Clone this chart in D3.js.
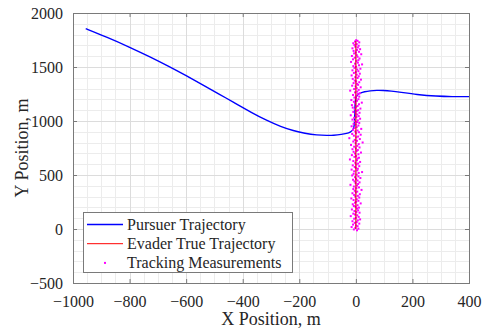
<!DOCTYPE html>
<html>
<head>
<meta charset="utf-8">
<script src="https://cdn.jsdelivr.net/npm/d3@7"></script>
<style>
  body { margin: 0; background: #fff; }
  svg { display: block; font-family: "Liberation Serif", "DejaVu Serif", serif; }
</style>
</head>
<body>
<div id="chart"></div>
<script>
// axis ticks
var xTicks = [-1000, -800, -600, -400, -200, 0, 200, 400];
var yTicks = [-500, 0, 500, 1000, 1500, 2000];

// pursuer trajectory
var pursuerX = [-955, -880, -800, -730, -660, -600, -540, -480, -433, -370, -315, -265, -221, -180, -138, -100, -80, -50, -32, -20, -9, -5, -4, -3, -1, 5, 15, 30, 50, 75, 97, 125, 156, 215, 286, 340, 400];
var pursuerY = [1855, 1776, 1684, 1597, 1504, 1420, 1333, 1244, 1174, 1080, 1005, 947, 910, 885, 870, 866, 867, 876, 886, 896, 918, 960, 1050, 1150, 1215, 1243, 1258, 1272, 1280, 1284, 1283, 1277, 1267, 1245, 1229, 1225, 1226];

// evader true trajectory
var evaderX = [0, 0];
var evaderY = [0, 1740];

// tracking measurements
var measY = [
  -12, -4, 3, 11, 18, 26, 33, 41, 50, 57,
  64, 72, 80, 89, 95, 103, 112, 119, 127, 134,
  142, 151, 158, 166, 173, 181, 190, 198, 205, 213,
  220, 229, 237, 244, 252, 261, 268, 276, 283, 291,
  300, 307, 315, 322, 331, 339, 346, 354, 362, 370,
  378, 385, 393, 402, 409, 417, 425, 432, 441, 449,
  456, 464, 472, 480, 487, 496, 503, 511, 519, 527,
  534, 543, 550, 558, 566, 574, 582, 589, 597, 606,
  613, 621, 629, 637, 644, 653, 660, 668, 676, 684,
  692, 699, 708, 715, 723, 731, 739, 746, 755, 762,
  770, 778, 786, 794, 801, 810, 817, 825, 833, 841,
  849, 856, 864, 873, 880, 888, 896, 903, 912, 919,
  927, 935, 943, 951, 958, 967, 974, 982, 990, 998,
  1006, 1013, 1021, 1030, 1037, 1045, 1053, 1060, 1069, 1076,
  1084, 1092, 1100, 1108, 1115, 1124, 1131, 1139, 1147, 1155,
  1163, 1170, 1178, 1187, 1194, 1202, 1210, 1217, 1226, 1233,
  1241, 1249, 1257, 1265, 1272, 1281, 1288, 1296, 1304, 1312,
  1320, 1327, 1335, 1344, 1351, 1359, 1367, 1374, 1383, 1390,
  1398, 1406, 1414, 1422, 1429, 1438, 1445, 1453, 1461, 1469,
  1477, 1484, 1492, 1501, 1508, 1516, 1524, 1531, 1540, 1547,
  1555, 1563, 1571, 1579, 1586, 1595, 1602, 1610, 1618, 1626,
  1634, 1641, 1649, 1658, 1665, 1673, 1681, 1688, 1697, 1704,
  1712, 1720, 1728, 1736, 1742, 1748];
var measX = [
  4, -7, 9, -2, -15, 6, 1, -10, 12, -4,
  3, -12, 7, 15, -6, 0, 10, -18, 5, -3,
  -9, 13, 2, -5, 8, -14, 4, 11, -1, -7,
  6, -11, 17, -3, 1, 9, -8, 3, -16, 12,
  -2, 7, -6, 14, -12, 0, 5, -4, 20, -9,
  2, 11, -7, 4, -19, 8, -1, 13, -5, 6,
  -10, 1, 16, -3, 9, -13, 3, -8, 10, 22,
  -6, 5, -15, 7, 0, -4, 12, -11, 2, 8,
  -2, 15, -9, 4, -21, 6, 11, -5, 1, -14,
  9, -3, 18, -8, 3, 7, -12, 0, 13, -6,
  5, -17, 10, -1, 24, -9, 4, -4, 14, -23,
  2, 8, -7, 17, -13, 1, 11, -2, 6, -10,
  19, -5, 3, -15, 9, 0, -8, 12, 4, -3,
  7, -12, 15, -6, 2, 10, -18, 5, -1, 13,
  -9, 3, 8, -4, 16, -11, 1, 6, -14, 11,
  -2, 21, -7, 4, -16, 9, 0, -5, 12, 2,
  -10, 7, 14, -3, 5, -20, 10, -6, 3, 17,
  -1, -13, 8, 4, -8, 12, 1, -4, 18, -11,
  6, -2, 10, -15, 3, 14, -7, 0, 9, -12,
  5, 16, -5, 1, -9, 11, 22, -3, 7, -17,
  2, 9, -10, 13, -4, 6, -14, 3, 19, -6,
  0, 11, -8, 4, 15, -12, 7, -2, 10, -5,
  3, -9, 12, -3, 6, 1];

var legendLabels = ["Pursuer Trajectory", "Evader True Trajectory", "Tracking Measurements"];

function zip(a, b) {
  var arr = [];
  for (var i = 0; i < a.length; i++) arr.push([a[i], b[i]]);
  return arr;
}

var width = 484, height = 332;
var margin = {top: 13, right: 15, bottom: 49, left: 73};
var w = width - margin.left - margin.right,
    h = height - margin.top - margin.bottom;
var fontFam = "'Liberation Serif', 'Times New Roman', serif";

var svg = d3.select("#chart").append("svg")
    .attr("width", width)
    .attr("height", height);

var g = svg.append("g")
    .attr("transform", "translate(" + margin.left + "," + margin.top + ")");

var x = d3.scaleLinear().domain([-1000, 400]).range([0, w]);
var y = d3.scaleLinear().domain([-500, 2000]).range([h, 0]);

// minor grid
g.append("g").selectAll("line")
    .data(d3.range(-1000, 401, 50))
  .enter().append("line")
    .attr("x1", function(d) { return Math.round(x(d)) + 0.5; })
    .attr("x2", function(d) { return Math.round(x(d)) + 0.5; })
    .attr("y1", 0).attr("y2", h)
    .attr("stroke", "#ececec");
g.append("g").selectAll("line")
    .data(d3.range(-500, 2001, 100))
  .enter().append("line")
    .attr("y1", function(d) { return Math.round(y(d)) + 0.5; })
    .attr("y2", function(d) { return Math.round(y(d)) + 0.5; })
    .attr("x1", 0).attr("x2", w)
    .attr("stroke", "#ececec");

// major grid
g.append("g").selectAll("line")
    .data(xTicks)
  .enter().append("line")
    .attr("x1", function(d) { return Math.round(x(d)) + 0.5; })
    .attr("x2", function(d) { return Math.round(x(d)) + 0.5; })
    .attr("y1", 0).attr("y2", h)
    .attr("stroke", "#dcdcdc");
g.append("g").selectAll("line")
    .data(yTicks)
  .enter().append("line")
    .attr("y1", function(d) { return Math.round(y(d)) + 0.5; })
    .attr("y2", function(d) { return Math.round(y(d)) + 0.5; })
    .attr("x1", 0).attr("x2", w)
    .attr("stroke", "#dcdcdc");

// data
var line = d3.line()
    .x(function(d) { return x(d[0]); })
    .y(function(d) { return y(d[1]); })
    .curve(d3.curveBasis);

g.append("path")
    .datum(zip(pursuerX, pursuerY))
    .attr("d", line)
    .attr("fill", "none")
    .attr("stroke", "#0000ff")
    .attr("stroke-width", 1.4);

g.append("g").selectAll("rect")
    .data(zip(measX, measY))
  .enter().append("rect")
    .attr("x", function(d) { return x(d[0]) - 1; })
    .attr("y", function(d) { return y(d[1]) - 1; })
    .attr("width", 2)
    .attr("height", 2)
    .attr("fill", "#ff00ff");

g.append("path")
    .datum(zip(evaderX, evaderY))
    .attr("d", d3.line().x(function(d) { return x(d[0]); }).y(function(d) { return y(d[1]); }))
    .attr("fill", "none")
    .attr("stroke", "#e00000")
    .attr("stroke-width", 1);

// axes (ticks inside, box on)
var axisColor = "#7a7a7a";
function styleAxis(sel) {
  sel.attr("font-family", fontFam).attr("font-size", 16);
  sel.select(".domain").remove();
  sel.selectAll(".tick line").attr("stroke", axisColor);
  sel.selectAll(".tick text").attr("fill", "#262626");
}

g.append("g")
    .attr("transform", "translate(0," + h + ")")
    .call(d3.axisBottom(x).tickValues(xTicks).tickSize(-4).tickPadding(13).tickFormat(d3.format("d")))
    .call(styleAxis);
g.append("g")
    .call(d3.axisTop(x).tickValues(xTicks).tickSize(-4).tickFormat(""))
    .call(styleAxis);
g.append("g")
    .call(d3.axisLeft(y).tickValues(yTicks).tickSize(-4).tickPadding(10).tickFormat(d3.format("d")))
    .call(styleAxis);
g.append("g")
    .attr("transform", "translate(" + w + ",0)")
    .call(d3.axisRight(y).tickValues(yTicks).tickSize(-4).tickFormat(""))
    .call(styleAxis);

g.append("rect")
    .attr("x", 0.5).attr("y", 0.5)
    .attr("width", w).attr("height", h)
    .attr("fill", "none")
    .attr("stroke", axisColor);

// axis titles
svg.append("text")
    .attr("x", margin.left + w / 2)
    .attr("y", 325)
    .attr("text-anchor", "middle")
    .attr("fill", "#262626")
    .attr("font-family", fontFam)
    .attr("font-size", 18)
    .text("X Position, m");
svg.append("text")
    .attr("transform", "translate(28," + (margin.top + h / 2) + ") rotate(-90)")
    .attr("text-anchor", "middle")
    .attr("fill", "#262626")
    .attr("font-family", fontFam)
    .attr("font-size", 18)
    .text("Y Position, m");

// legend
var legend = svg.append("g");
legend.append("rect")
    .attr("x", 83.5).attr("y", 212.5)
    .attr("width", 209).attr("height", 60)
    .attr("fill", "#fff")
    .attr("stroke", axisColor);

var rows = legend.selectAll(".row")
    .data(legendLabels)
  .enter().append("g")
    .attr("class", "row")
    .attr("transform", function(d, i) { return "translate(0," + (224.5 + i * 19.2) + ")"; });

rows.filter(function(d, i) { return i < 2; })
  .append("line")
    .attr("x1", 87).attr("x2", 123)
    .attr("stroke", function(d, i) { return i === 0 ? "#0000ff" : "#ff0000"; })
    .attr("stroke-width", function(d, i) { return i === 0 ? 1.4 : 1; });

rows.filter(function(d, i) { return i === 2; })
  .append("rect")
    .attr("x", 104).attr("y", -1)
    .attr("width", 2).attr("height", 2)
    .attr("fill", "#ff00ff");

rows.append("text")
    .attr("x", 127)
    .attr("dy", "0.33em")
    .attr("fill", "#262626")
    .attr("font-family", fontFam)
    .attr("font-size", 16)
    .text(function(d) { return d; });
</script>
</body>
</html>
